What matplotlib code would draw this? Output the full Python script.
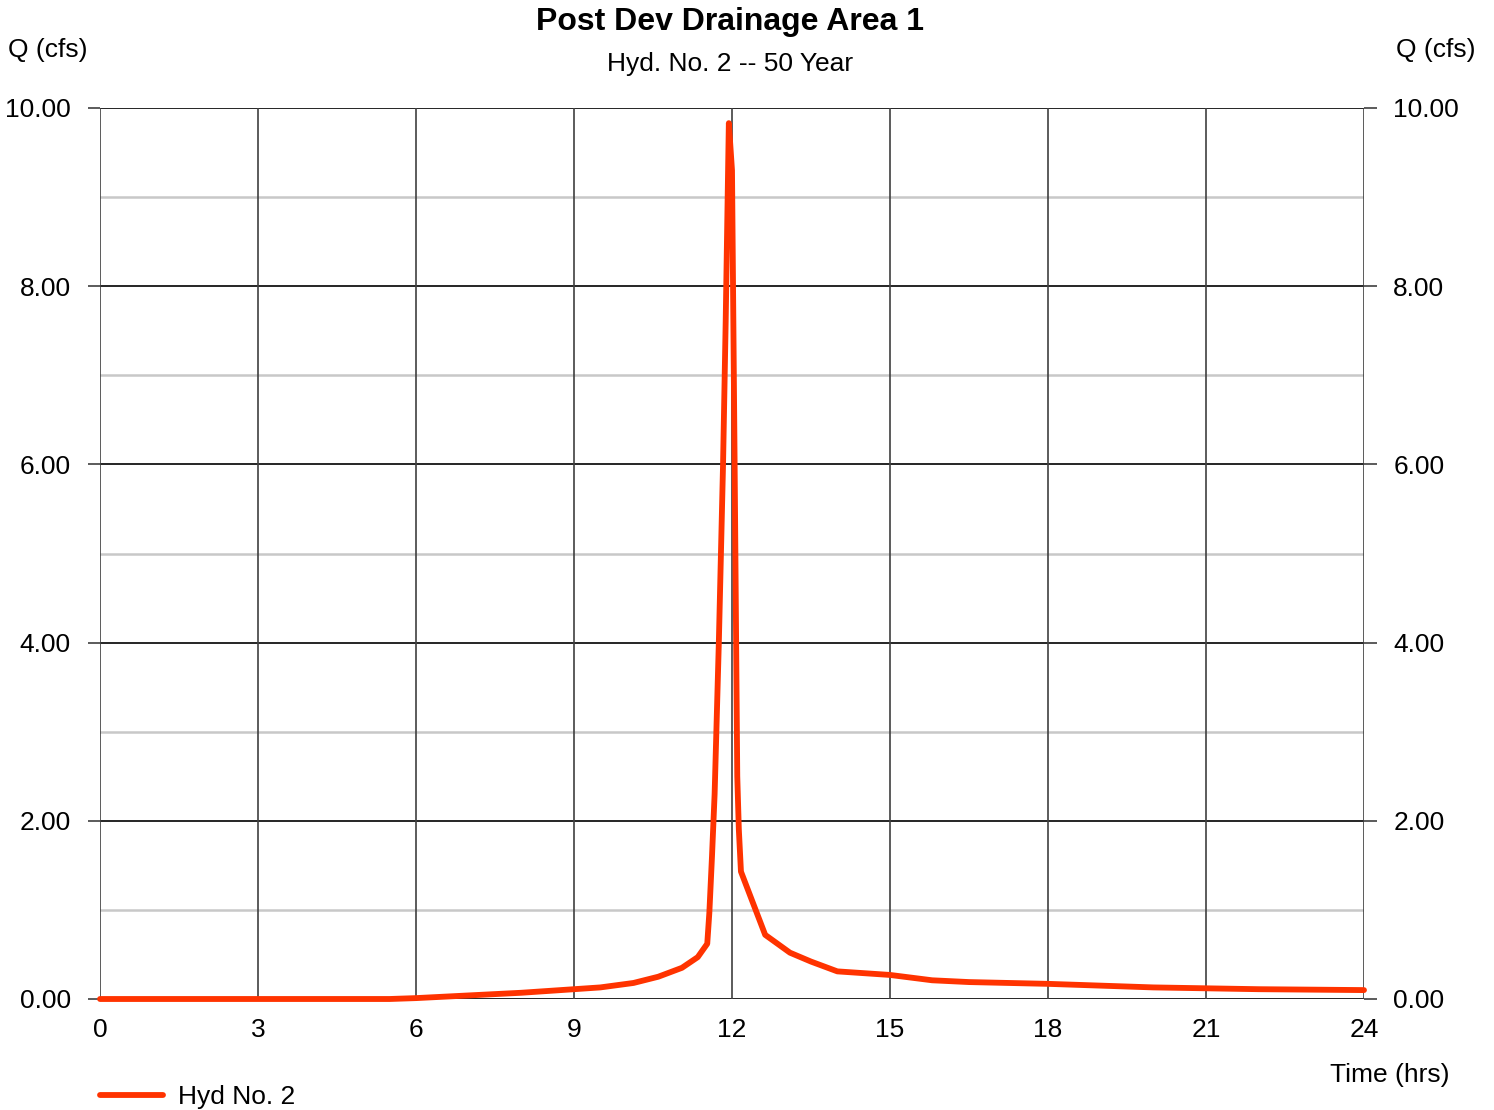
import matplotlib
matplotlib.use('Agg')
import matplotlib.pyplot as plt
from matplotlib.lines import Line2D

plt.rcParams['font.family'] = ['Liberation Sans', 'DejaVu Sans']

# hydrograph (hrs, cfs)
time_hrs = [0, 3, 5.5, 6, 7, 8, 9, 9.5, 10.13, 10.6, 11.05, 11.35, 11.53, 11.57, 11.62,
            11.67, 11.75, 11.83, 11.88, 11.94, 12.0, 12.05, 12.1, 12.13, 12.17, 12.63,
            13.1, 13.5, 14.0, 15.0, 15.8, 16.5, 18.0, 19.0, 20.0, 21.0, 22.0, 24.0]
flow_cfs = [0, 0, 0, 0.01, 0.04, 0.07, 0.11, 0.13, 0.18, 0.25, 0.35, 0.47, 0.62, 0.97, 1.6,
            2.3, 4.0, 6.0, 7.6, 9.83, 9.3, 6.0, 2.5, 1.9, 1.43, 0.72,
            0.52, 0.42, 0.31, 0.27, 0.21, 0.19, 0.17, 0.15, 0.13, 0.12, 0.11, 0.10]

x_ticks = [0, 3, 6, 9, 12, 15, 18, 21, 24]
y_ticks = [0, 2, 4, 6, 8, 10]
y_minor = [1, 3, 5, 7, 9]

title = 'Post Dev Drainage Area 1'
subtitle = 'Hyd. No. 2 -- 50 Year'
series_name = 'Hyd No. 2'
line_color = '#ff3300'
fs = 19

fig = plt.figure(figsize=(14.94, 11.10), dpi=100)
ax = fig.add_axes([100/1494, 1 - 999/1110, 1264/1494, 891/1110])

ax.set_xlim(0, 24)
ax.set_ylim(0, 10)

# grid: vertical dark grey, horizontal black major / light grey minor
for y in y_minor:
    ax.axhline(y, color='#c8c8c8', lw=1.8, zorder=1)
for y in y_ticks:
    ax.axhline(y, color='black', lw=1.2, zorder=2)
for x in x_ticks:
    ax.axvline(x, color='#404040', lw=1.2, zorder=2)

for s in ax.spines.values():
    s.set_visible(False)

ax.plot(time_hrs, flow_cfs, color=line_color, lw=4.2, solid_joinstyle='round',
        solid_capstyle='round', zorder=3, clip_on=False)

ax.set_xticks(x_ticks)
ax.set_xticklabels([str(v) for v in x_ticks])
ax.set_yticks(y_ticks)
ax.set_yticklabels(['%.2f' % v for v in y_ticks])
ax.tick_params(axis='x', length=0, pad=13.5, labelsize=fs)
ax.tick_params(axis='y', length=9, width=1.2, color='#404040', pad=12, labelsize=fs,
               left=True, right=True, labelleft=True, labelright=True)

fig.text(730/1494, 1 - 22/1110, title, ha='center', va='center', fontsize=23, fontweight='bold')
fig.text(730/1494, 1 - 64/1110, subtitle, ha='center', va='center', fontsize=fs)
fig.text(8/1494, 1 - 50/1110, 'Q (cfs)', ha='left', va='center', fontsize=fs)
fig.text(1475/1494, 1 - 50/1110, 'Q (cfs)', ha='right', va='center', fontsize=fs)
fig.text(1449/1494, 1 - 1075/1110, 'Time (hrs)', ha='right', va='center', fontsize=fs)

# legend at the bottom left
fig.add_artist(Line2D([100/1494, 163/1494], [1 - 1095/1110, 1 - 1095/1110],
                      color=line_color, lw=4.2, solid_capstyle='round'))
fig.text(178/1494, 1 - 1097/1110, series_name, ha='left', va='center', fontsize=fs)

fig.savefig('out.png', dpi=100)
